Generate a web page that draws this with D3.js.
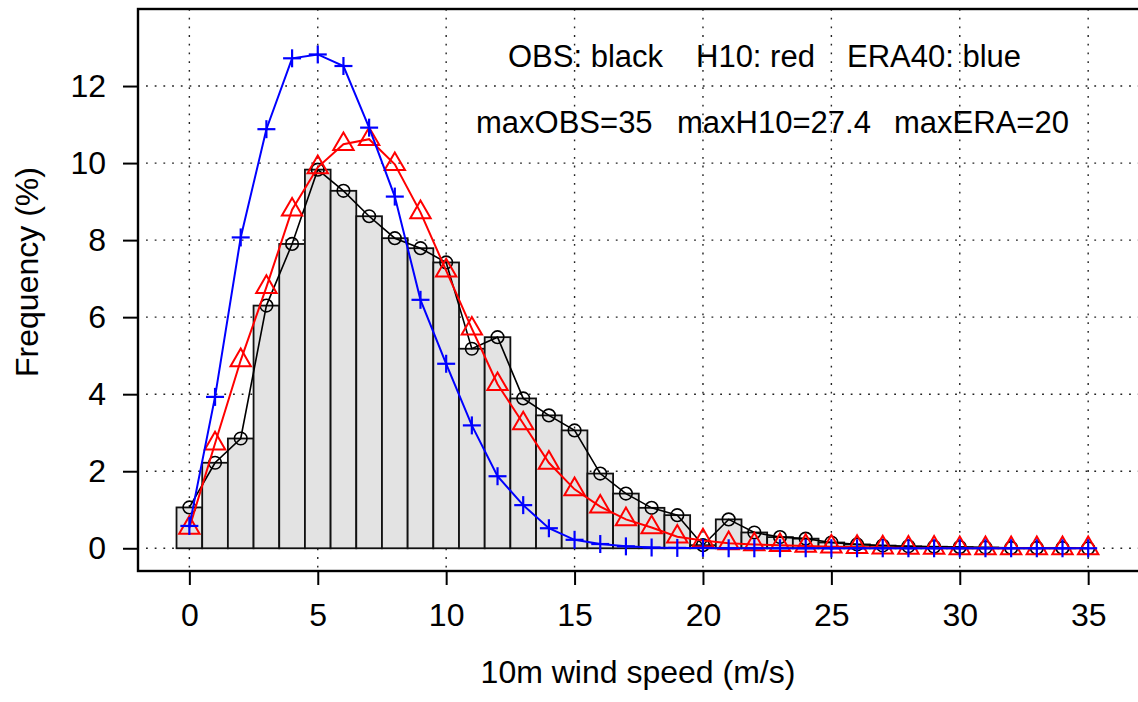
<!DOCTYPE html>
<html>
<head>
<meta charset="utf-8">
<script src="https://cdn.jsdelivr.net/npm/d3@7"></script>
<style>
  html, body { margin: 0; padding: 0; background: #fff; }
  svg { display: block; font-family: "Liberation Sans", Arial, Helvetica, sans-serif; }
</style>
</head>
<body>
<svg id="chart" width="1138" height="702"></svg>
<script>
// ---- data ----
const windSpeed = d3.range(0, 36);   // bins 0..35 m/s
const obsFreq = [1.06, 2.22, 2.85, 6.30, 7.90, 9.83, 9.28, 8.62, 8.05, 7.79,
                 7.42, 5.18, 5.48, 3.89, 3.45, 3.06, 1.94, 1.42, 1.05, 0.86,
                 0.08, 0.75, 0.41, 0.29, 0.25, 0.15, 0.10, 0.07, 0.05, 0.04,
                 0.03, 0.02, 0.01, 0.01, 0.01, 0.00];
const h10Freq = [0.53, 2.72, 4.88, 6.78, 8.79, 9.89, 10.49, 10.62, 9.97, 8.72,
                 7.21, 5.70, 4.26, 3.24, 2.22, 1.53, 1.08, 0.75, 0.54, 0.30,
                 0.20, 0.13, 0.10, 0.08, 0.06, 0.04, 0.03, 0.02, 0.01, 0.01,
                 0.00, 0.00, 0.00, 0.00, 0.00, 0.00];
const eraFreq = [0.58, 3.93, 8.07, 10.88, 12.72, 12.82, 12.52, 10.92, 9.13, 6.45,
                 4.79, 3.19, 1.87, 1.12, 0.52, 0.22, 0.11, 0.05, 0.02, 0.01,
                 0.01, 0.00, 0.00, 0.00, 0.00, 0.00, 0.00, 0.00, 0.00, 0.00,
                 0.00, 0.00, 0.00, 0.00, 0.00, 0.00];
const xTicks = [0, 5, 10, 15, 20, 25, 30, 35];
const yTicks = [0, 2, 4, 6, 8, 10, 12];
const legendLine1 = ["OBS: black", "H10: red", "ERA40: blue"];
const legendLine2 = ["maxOBS=35", "maxH10=27.4", "maxERA=20"];
const xTitle = "10m wind speed (m/s)";
const yTitle = "Frequency (%)";

// ---- layout ----
const svg = d3.select("#chart");
const L = 138, R = 1138, T = 9, B = 571;
const x = d3.scaleLinear().domain([-2, 36.94]).range([L, R]);
const y = d3.scaleLinear().domain([-0.59, 14.0]).range([B, T]);
const FS = 32, FSA = 31;

// grid
const grid = svg.append("g").attr("stroke", "#222").attr("stroke-width", 1.4)
  .attr("stroke-dasharray", "1.8,6.9");
grid.selectAll("line.v").data(xTicks).join("line")
  .attr("x1", d => x(d)).attr("x2", d => x(d)).attr("y1", T).attr("y2", B);
grid.selectAll("line.h").data(yTicks).join("line")
  .attr("y1", d => y(d)).attr("y2", d => y(d)).attr("x1", L + 8).attr("x2", R);

// bars
svg.append("g").selectAll("rect").data(windSpeed).join("rect")
  .attr("x", d => x(d - 0.5)).attr("width", x(1) - x(0))
  .attr("y", (d, i) => y(obsFreq[i])).attr("height", (d, i) => y(0) - y(obsFreq[i]))
  .attr("fill", "#e3e3e3").attr("stroke", "#111").attr("stroke-width", 1.8);

const line = arr => d3.line().x((d, i) => x(windSpeed[i])).y(d => y(d))(arr);

// OBS
svg.append("path").attr("d", line(obsFreq)).attr("fill", "none")
  .attr("stroke", "#000").attr("stroke-width", 1.6);
svg.append("g").selectAll("circle").data(obsFreq).join("circle")
  .attr("cx", (d, i) => x(windSpeed[i])).attr("cy", d => y(d)).attr("r", 6.3)
  .attr("fill", "none").attr("stroke", "#000").attr("stroke-width", 1.6);

// H10
svg.append("path").attr("d", line(h10Freq)).attr("fill", "none")
  .attr("stroke", "#ff0000").attr("stroke-width", 2);
const tri = d3.symbol().type(d3.symbolTriangle).size(180);
svg.append("g").selectAll("path").data(h10Freq).join("path")
  .attr("d", tri)
  .attr("transform", (d, i) => `translate(${x(windSpeed[i])},${y(d)})`)
  .attr("fill", "none").attr("stroke", "#ff0000").attr("stroke-width", 2);

// ERA40
svg.append("path").attr("d", line(eraFreq)).attr("fill", "none")
  .attr("stroke", "#0000ff").attr("stroke-width", 2);
const plus = svg.append("g").attr("stroke", "#0000ff").attr("stroke-width", 2.2);
plus.selectAll("line.h").data(eraFreq).join("line")
  .attr("x1", (d, i) => x(windSpeed[i]) - 9).attr("x2", (d, i) => x(windSpeed[i]) + 9)
  .attr("y1", d => y(d)).attr("y2", d => y(d));
plus.selectAll("line.v").data(eraFreq).join("line")
  .attr("x1", (d, i) => x(windSpeed[i])).attr("x2", (d, i) => x(windSpeed[i]))
  .attr("y1", d => y(d) - 9).attr("y2", d => y(d) + 9);

// frame
svg.append("rect").attr("x", L).attr("y", T).attr("width", R - L + 10).attr("height", B - T)
  .attr("fill", "none").attr("stroke", "#000").attr("stroke-width", 2.4);

// axes
const yAxis = svg.append("g").attr("transform", `translate(${L},0)`)
  .call(d3.axisLeft(y).tickValues(yTicks).tickSize(15).tickSizeOuter(0).tickPadding(17));
const xAxis = svg.append("g").attr("transform", `translate(0,${B})`)
  .call(d3.axisBottom(x).tickValues(xTicks).tickSize(14).tickSizeOuter(0).tickPadding(18));
[xAxis, yAxis].forEach(a => {
  a.select(".domain").remove();
  a.selectAll(".tick line").attr("stroke", "#000").attr("stroke-width", 2);
  a.selectAll(".tick text").attr("fill", "#000").style("font-size", FS + "px")
    .style("font-family", '"Liberation Sans", Arial, sans-serif');
});

// titles
svg.append("text").attr("x", (L + R) / 2).attr("y", 683).attr("text-anchor", "middle")
  .style("font-size", FS + "px").text(xTitle);
svg.append("text").attr("transform", "translate(38,272) rotate(-90)")
  .attr("text-anchor", "middle").style("font-size", FS + "px").text(yTitle);

// annotations
const l1x = [508, 696, 847], l2x = [476, 677, 894];
svg.append("g").selectAll("text").data(legendLine1).join("text")
  .attr("x", (d, i) => l1x[i]).attr("y", 67).style("font-size", FSA + "px").text(d => d);
svg.append("g").selectAll("text").data(legendLine2).join("text")
  .attr("x", (d, i) => l2x[i]).attr("y", 133).style("font-size", FSA + "px").text(d => d);
</script>
</body>
</html>
